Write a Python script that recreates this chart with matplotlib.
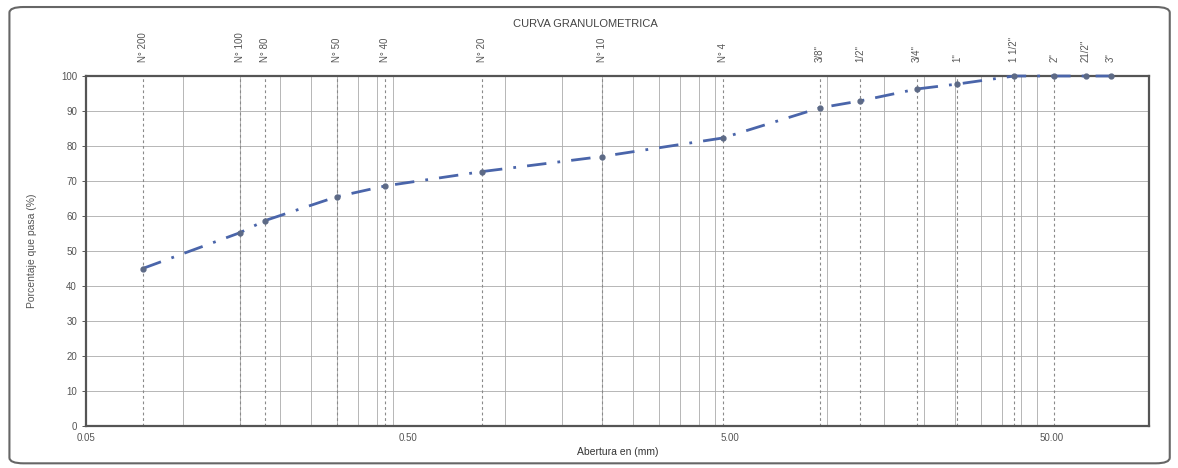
import numpy as np
import matplotlib
matplotlib.use('Agg')
import matplotlib.pyplot as plt
from matplotlib.patches import FancyBboxPatch
from matplotlib.transforms import blended_transform_factory

plt.rcParams['font.family'] = ['Liberation Sans', 'DejaVu Sans']

# sieve data
sieve_labels = ['N° 200', 'N° 100', 'N° 80', 'N° 50', 'N° 40', 'N° 20', 'N° 10', 'N° 4',
                '3/8"', '1/2"', '3/4"', '1"', '1 1/2"', '2"', '21/2"', '3"']
sieve_mm = [0.075, 0.15, 0.18, 0.30, 0.425, 0.85, 2.00, 4.75,
            9.50, 12.70, 19.05, 25.40, 38.10, 50.80, 63.50, 76.20]
pct_passing = [45.0, 55.2, 58.7, 65.5, 68.6, 72.7, 77.0, 82.3,
               90.9, 92.9, 96.3, 97.7, 100.0, 100.0, 100.0, 100.0]
sieve_line = [True] * 14 + [False, False]

x_major = [0.05, 0.5, 5.0, 50.0]
x_major_labels = ['0.05', '0.50', '5.00', '50.00']
y_ticks = list(range(0, 101, 10))

txt = '#555555'
grid_c = '#ababab'

fig = plt.figure(figsize=(11.78, 4.68), dpi=100)
ax = fig.add_axes([0.073, 0.0897, 0.9024, 0.7479])

ax.set_xscale('log')
ax.set_xlim(0.05, 100)
ax.set_ylim(0, 100)

# excel-style log gridlines (multiples of each major value)
for base in x_major:
    for k in range(2, 10):
        v = base * k
        if v < 100:
            ax.axvline(v, color=grid_c, lw=0.6, zorder=1)
for y in y_ticks[1:-1]:
    ax.axhline(y, color=grid_c, lw=0.6, zorder=1)

# sieve reference lines
for s, show in zip(sieve_mm, sieve_line):
    if show:
        ax.axvline(s, color='#8a8a8a', lw=0.8, ls=(0, (2.5, 2.5)), zorder=2)

ax.plot(sieve_mm, pct_passing, color='#4a65aa', lw=2.0, ls=(0, (7, 4, 1, 4)),
        zorder=3, clip_on=False)
ax.plot(sieve_mm, pct_passing, ls='none', marker='o', ms=3.5, color='#5d6a86',
        zorder=4, clip_on=False)

ax.xaxis.set_major_locator(matplotlib.ticker.FixedLocator(x_major))
ax.xaxis.set_major_formatter(matplotlib.ticker.FixedFormatter(x_major_labels))
ax.xaxis.set_minor_locator(matplotlib.ticker.NullLocator())
ax.set_yticks(y_ticks)
ax.tick_params(axis='both', labelsize=7, colors=txt, length=3, width=0.7)
ax.tick_params(axis='x', length=0, pad=5)

for sp in ax.spines.values():
    sp.set_color('#555555')
    sp.set_linewidth(1.6)

trans = blended_transform_factory(ax.transData, ax.transAxes)
for s, lab in zip(sieve_mm, sieve_labels):
    ax.text(s, 1.04, lab, transform=trans, rotation=90, ha='center', va='bottom',
            fontsize=7, color=txt)

fig.text(0.497, 0.948, 'CURVA GRANULOMETRICA', ha='center', va='center',
         fontsize=8, color='#444444')
ax.set_xlabel('Abertura en (mm)', fontsize=7.5, color='#333333', labelpad=3)
ax.set_ylabel('Porcentaje que pasa (%)', fontsize=7.5, color=txt, labelpad=17)

border = FancyBboxPatch((0.008, 0.01), 0.985, 0.975, transform=fig.transFigure,
                        boxstyle='round,pad=0,rounding_size=0.012',
                        fill=False, edgecolor='#666666', lw=1.5)
fig.patches.append(border)

fig.savefig('out.png', dpi=100)
